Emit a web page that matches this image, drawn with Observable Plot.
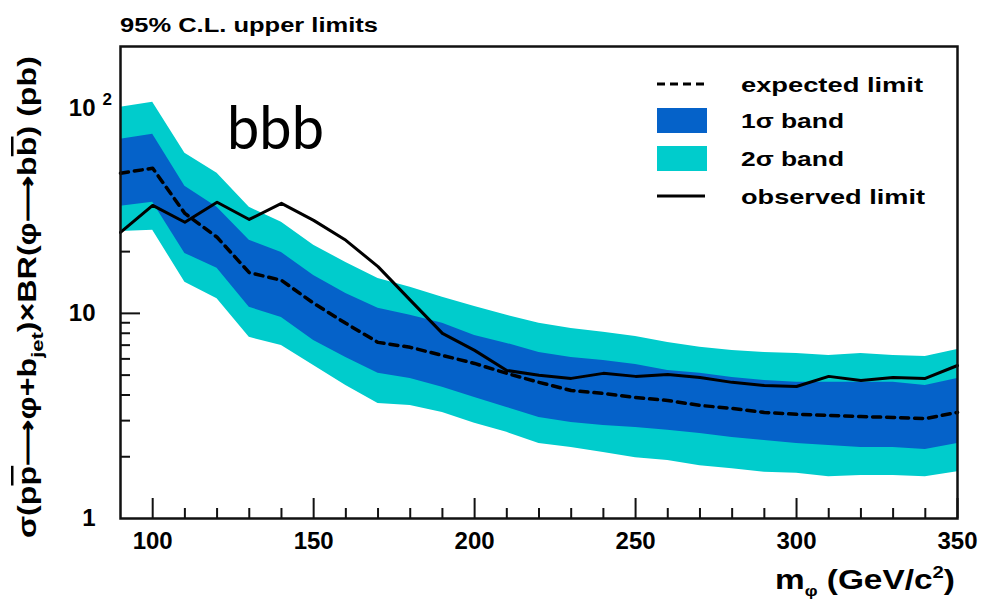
<!DOCTYPE html>
<html><head><meta charset="utf-8">
<script src="https://cdn.jsdelivr.net/npm/d3@7"></script>
<script src="https://cdn.jsdelivr.net/npm/@observablehq/plot@0.6"></script>
<style>body{margin:0;background:#fff;}</style>
</head><body><div id="chart"></div>
<script>
// ---- data ----
const mass      = [90, 100, 110, 120, 130, 140, 150, 160, 170, 180, 190, 200, 210, 220, 230, 240, 250, 260, 270, 280, 290, 300, 310, 320, 330, 340, 350];
const observed  = [24.8, 33.6, 27.8, 34.8, 28.7, 34.4, 28.4, 22.7, 16.9, 11.6, 7.99, 6.60, 5.27, 4.99, 4.82, 5.10, 4.93, 5.04, 4.87, 4.61, 4.45, 4.40, 4.93, 4.71, 4.87, 4.82, 5.57];
const expected  = [48.2, 51.0, 30.7, 23.5, 15.8, 14.5, 11.2, 8.94, 7.22, 6.83, 6.24, 5.70, 5.10, 4.61, 4.21, 4.07, 3.89, 3.76, 3.56, 3.44, 3.29, 3.22, 3.18, 3.14, 3.11, 3.07, 3.29];
const band1Low  = [33.3, 34.8, 19.6, 16.6, 10.7, 9.56, 7.38, 6.10, 5.10, 4.82, 4.36, 3.89, 3.48, 3.11, 2.94, 2.84, 2.78, 2.69, 2.60, 2.48, 2.40, 2.32, 2.27, 2.22, 2.22, 2.17, 2.32];
const band1High = [70.6, 74.7, 41.7, 32.9, 22.7, 19.8, 15.3, 12.5, 10.6, 9.78, 8.94, 7.81, 7.14, 6.45, 6.10, 5.90, 5.64, 5.27, 5.10, 4.87, 4.71, 4.61, 4.61, 4.61, 4.61, 4.45, 4.82];
const band2Low  = [25.1, 25.4, 14.2, 11.8, 7.64, 6.98, 5.57, 4.45, 3.64, 3.56, 3.29, 2.91, 2.63, 2.32, 2.22, 2.10, 1.98, 1.92, 1.81, 1.75, 1.68, 1.66, 1.60, 1.62, 1.62, 1.60, 1.69];
const band2High = [101, 107, 60.3, 48.2, 32.9, 27.8, 21.5, 17.7, 14.8, 13.4, 12.0, 10.8, 9.78, 8.94, 8.45, 8.08, 7.72, 7.22, 6.83, 6.60, 6.45, 6.38, 6.24, 6.38, 6.24, 6.17, 6.67];

const xMajorTicks = [100, 150, 200, 250, 300, 350];
const xMinorTicks = [110, 120, 130, 140, 160, 170, 180, 190, 210, 220, 230, 240, 260, 270, 280, 290, 310, 320, 330, 340];
const yMajorTicks = [10, 100];
const yLabelTicks = [1, 10, 100];
const yTickLabels = ["1", "10", "10"];
const yMinorTicks = [2, 3, 4, 5, 6, 7, 8, 9, 20, 30, 40, 50, 60, 70, 80, 90];
const legendLabels = ["expected limit", "1\u03c3 band", "2\u03c3 band", "observed limit"];
const titleText = "95% C.L. upper limits";
const annotation = "bbb";

const COL1 = "#0562c9", COL2 = "#00cccc";

const rows = mass.map((m, i) => ({m, obs: observed[i], exp: expected[i],
  lo1: band1Low[i], hi1: band1High[i], lo2: band2Low[i], hi2: band2High[i]}));

const W = 983, H = 604, mL = 120, mR = 26, mT = 46, mB = 86;
const fw = W - mL - mR, fh = H - mT - mB;
const FONT = "'Liberation Sans', Arial, Helvetica, sans-serif";

const chart = Plot.plot({
  width: W, height: H,
  marginLeft: mL, marginRight: mR, marginTop: mT, marginBottom: mB,
  style: {fontFamily: FONT, background: "white", overflow: "visible", color: "black"},
  x: {domain: [90, 350]},
  y: {type: "log", domain: [1, 200]},
  marks: [
    Plot.tickX(xMajorTicks, {x: d => d, insetTop: fh - 20, stroke: "#111", strokeWidth: 2}),
    Plot.tickX(xMinorTicks, {x: d => d, insetTop: fh - 10, stroke: "#111", strokeWidth: 2}),
    Plot.tickY(yMajorTicks, {y: d => d, insetRight: fw - 20, stroke: "#111", strokeWidth: 2}),
    Plot.tickY(yMinorTicks, {y: d => d, insetRight: fw - 10, stroke: "#111", strokeWidth: 2}),
    Plot.areaY(rows, {x: "m", y1: "lo2", y2: "hi2", fill: COL2}),
    Plot.areaY(rows, {x: "m", y1: "lo1", y2: "hi1", fill: COL1}),
    Plot.line(rows, {x: "m", y: "exp", stroke: "black", strokeWidth: 3.5, strokeDasharray: "8,6"}),
    Plot.line(rows, {x: "m", y: "obs", stroke: "black", strokeWidth: 3}),
    Plot.frame({stroke: "#111", strokeWidth: 2.5}),
    Plot.axisX(xMajorTicks, {tickSize: 0, tickPadding: 13, fontSize: 24, fontWeight: "bold", label: null, tickFormat: d => String(d)}),
    Plot.axisY(yLabelTicks, {tickSize: 0, tickPadding: 25, fontSize: 24, fontWeight: "bold", label: null,
      tickFormat: d => yTickLabels[yLabelTicks.indexOf(d)]}),
    Plot.text([100], {y: d => d, frameAnchor: "left", dx: -18, dy: -9, text: d => "2", textAnchor: "start", fontSize: 17, fontWeight: "bold"})
  ]
});
document.getElementById("chart").appendChild(chart);

const svg = d3.select(chart);

// title
svg.append("text").attr("x", 120).attr("y", 32).attr("text-anchor", "start")
  .attr("font-family", FONT).attr("font-weight", "bold").attr("font-size", 20)
  .attr("textLength", 258).attr("lengthAdjust", "spacingAndGlyphs").text(titleText);

// annotation
svg.append("text").attr("x", 227).attr("y", 149).attr("text-anchor", "start")
  .attr("font-family", "Lato, 'Open Sans', sans-serif").attr("font-size", 60)
  .attr("textLength", 97).attr("lengthAdjust", "spacingAndGlyphs").text(annotation);

// y-axis title
const yt = svg.append("text")
  .attr("transform", "translate(36,297) rotate(-90)")
  .attr("text-anchor", "middle")
  .attr("font-family", FONT).attr("font-weight", "bold").attr("font-size", 25)
  .attr("textLength", 482).attr("lengthAdjust", "spacingAndGlyphs");
yt.append("tspan").text("\u03c3(p");
yt.append("tspan").style("text-decoration", "overline").text("p");
yt.append("tspan").text("\u27f6\u03c6+b");
yt.append("tspan").attr("dy", 7).attr("font-size", 17).text("jet");
yt.append("tspan").attr("dy", -7).text(")\u00d7BR(\u03c6\u27f6b");
yt.append("tspan").style("text-decoration", "overline").text("b");
yt.append("tspan").text(") (pb)");

// x-axis title
const xt = svg.append("text").attr("x", 955).attr("y", 589)
  .attr("text-anchor", "end")
  .attr("font-family", FONT).attr("font-weight", "bold").attr("font-size", 28)
  .attr("textLength", 180).attr("lengthAdjust", "spacingAndGlyphs");
xt.append("tspan").text("m");
xt.append("tspan").attr("dy", 7).attr("font-size", 15).text("\u03c6");
xt.append("tspan").attr("dy", -7).text(" (GeV/c");
xt.append("tspan").attr("dy", -11).attr("font-size", 17).text("2");
xt.append("tspan").attr("dy", 11).text(")");

// legend
const lg = svg.append("g");
const lx0 = 657, lx1 = 707, tx = 741;
lg.append("line").attr("x1", lx0).attr("x2", lx1 - 2).attr("y1", 84).attr("y2", 84)
  .attr("stroke", "black").attr("stroke-width", 2.8).attr("stroke-dasharray", "8,5");
lg.append("rect").attr("x", lx0).attr("y", 108).attr("width", lx1 - lx0).attr("height", 25).attr("fill", COL1);
lg.append("rect").attr("x", lx0).attr("y", 146).attr("width", lx1 - lx0).attr("height", 25).attr("fill", COL2);
lg.append("line").attr("x1", lx0).attr("x2", lx1 - 2).attr("y1", 196).attr("y2", 196)
  .attr("stroke", "black").attr("stroke-width", 2.8);
const legendY = [92, 128, 166, 204];
const legendW = [182, 103, 103, 184];
legendLabels.forEach((t, i) => {
  lg.append("text").attr("x", tx).attr("y", legendY[i]).attr("text-anchor", "start")
    .attr("font-family", FONT).attr("font-weight", "bold").attr("font-size", 21)
    .attr("textLength", legendW[i]).attr("lengthAdjust", "spacingAndGlyphs").text(t);
});
</script>
</body></html>
